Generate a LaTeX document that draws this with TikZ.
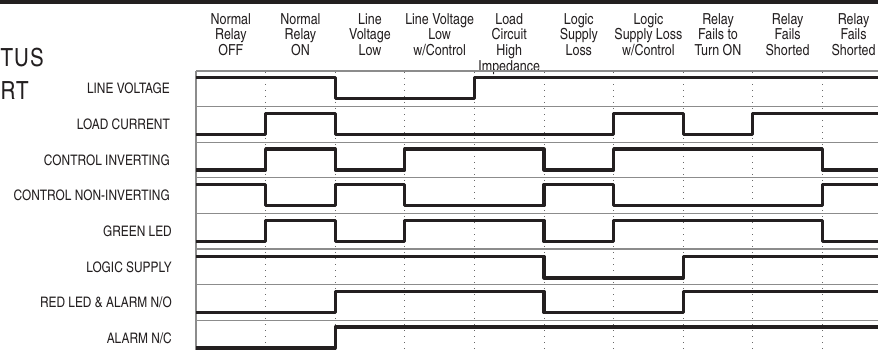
\documentclass[tikz,border=0pt]{standalone}
\usepackage{fontspec}
\setmainfont{texgyreheroscn-regular.otf}
\usepackage{xcolor}
\definecolor{sigblack}{RGB}{35,31,32}
\definecolor{rulegray}{RGB}{140,140,140}
\definecolor{dotgray}{RGB}{105,105,105}
\usepackage{tikz}

\begin{document}
\begin{tikzpicture}[
    x=1pt, y=-1pt,
    sig/.style={draw=sigblack, line width=3.2pt, line join=round},
    sepline/.style={draw=rulegray, line width=1.1pt},
    colsep/.style={draw=dotgray, line width=0.9pt, dash pattern=on 1.1pt off 4.9pt},
    rowlbl/.style={anchor=base east, inner sep=0pt, text=sigblack,
                   font=\fontsize{14.5}{16}\selectfont},
    colhd/.style={anchor=north, inner sep=0pt, align=center, text=sigblack,
                  font=\fontsize{15.2}{15.7}\selectfont},
    titletxt/.style={anchor=base west, inner sep=0pt, text=sigblack,
                     font=\fontsize{25}{25}\selectfont\addfontfeatures{LetterSpace=4}},
]
\useasboundingbox (0,0) rectangle (878,350);

% top bar
\fill[sigblack] (0,0) rectangle (878,4.5);

% title (cut off at the left)
\node[titletxt] (ttlA) at (0.5,67) {TUS};
\node[titletxt] (ttlB) at (0.5,100) {RT};

% ===== column headings =====
\node[colhd] (hOff)     at (230.8,13) {Normal\\Relay\\OFF};
\node[colhd] (hOn)      at (300.4,13) {Normal\\Relay\\ON};
\node[colhd] (hLow)     at (370.0,13) {Line\\Voltage\\Low};
\node[colhd] (hLowCtl)  at (439.6,13) {Line Voltage\\Low\\w/Control};
\node[colhd] (hHiZ)     at (509.2,13) {Load\\Circuit\\High\\Impedance};
\node[colhd] (hSup)     at (578.8,13) {Logic\\Supply\\Loss};
\node[colhd] (hSupCtl)  at (648.4,13) {Logic\\Supply Loss\\w/Control};
\node[colhd] (hFailOn)  at (718.0,13) {Relay\\Fails to\\Turn ON};
\node[colhd] (hShortA)  at (787.6,13) {Relay\\Fails\\Shorted};
\node[colhd] (hShortB)  at (853.5,13) {Relay\\Fails\\Shorted};

% ===== row labels =====
\node[rowlbl] (lv) at (170,94.0)  {LINE VOLTAGE};
\node[rowlbl] (lc) at (170,129.6) {LOAD CURRENT};
\node[rowlbl] (ci) at (170,165.2) {CONTROL INVERTING};
\node[rowlbl] (cn) at (170,200.8) {CONTROL NON-INVERTING};
\node[rowlbl] (gl) at (172,236.4) {GREEN LED};
\node[rowlbl] (ls) at (172,272.0) {LOGIC SUPPLY};
\node[rowlbl] (rl) at (172,307.6) {RED LED \& ALARM N/O};
\node[rowlbl] (an) at (172,343.2) {ALARM N/C};

% ===== grid =====
% dotted column boundaries
\draw[colsep] (265.6,72) -- (265.6,350);
\draw[colsep] (335.2,72) -- (335.2,350);
\draw[colsep] (404.8,72) -- (404.8,350);
\draw[colsep] (474.4,72) -- (474.4,350);
\draw[colsep] (544.0,72) -- (544.0,350);
\draw[colsep] (613.6,72) -- (613.6,350);
\draw[colsep] (683.2,72) -- (683.2,350);
\draw[colsep] (752.8,72) -- (752.8,350);
\draw[colsep] (822.4,72) -- (822.4,350);

% row separators and left edge
\draw[sepline] (196,71) -- (196,350);
\draw[sepline] (196,71.0)  -- (878,71.0);
\draw[sepline] (196,106.6) -- (878,106.6);
\draw[sepline] (196,142.2) -- (878,142.2);
\draw[sepline] (196,177.8) -- (878,177.8);
\draw[sepline] (196,213.4) -- (878,213.4);
\draw[sepline] (196,249.0) -- (878,249.0);
\draw[sepline] (196,284.6) -- (878,284.6);
\draw[sepline] (196,320.2) -- (878,320.2);

% ===== signals =====
% line voltage
\draw[sig] (196,77.5) -| (335.2,98.5) -| (474.4,77.5) -- (878,77.5);
% load current
\draw[sig] (196,134.5) -| (265.6,113.5) -| (335.2,134.5) -| (613.6,113.5)
      -| (683.2,134.5) -| (752.8,113.5) -- (878,113.5);
% control inverting
\draw[sig] (196,170) -| (265.6,149) -| (335.2,170) -| (404.8,149)
      -| (544,170) -| (613.6,149) -| (822.4,170) -- (878,170);
% control non-inverting
\draw[sig] (196,184.5) -| (265.6,205.5) -| (335.2,184.5) -| (404.8,205.5)
      -| (544,184.5) -| (613.6,205.5) -| (822.4,184.5) -- (878,184.5);
% green led
\draw[sig] (196,241.5) -| (265.6,220.5) -| (335.2,241.5) -| (404.8,220.5)
      -| (544,241.5) -| (613.6,220.5) -| (822.4,241.5) -- (878,241.5);
% logic supply
\draw[sig] (196,256.5) -| (544,278) -| (683.2,256.5) -- (878,256.5);
% red led & alarm n/o
\draw[sig] (196,312.5) -| (335.2,291.5) -| (544,312.5) -| (683.2,291.5) -- (878,291.5);
% alarm n/c
\draw[sig] (196,348) -| (335.2,327) -- (878,327);

\end{tikzpicture}
\end{document}
